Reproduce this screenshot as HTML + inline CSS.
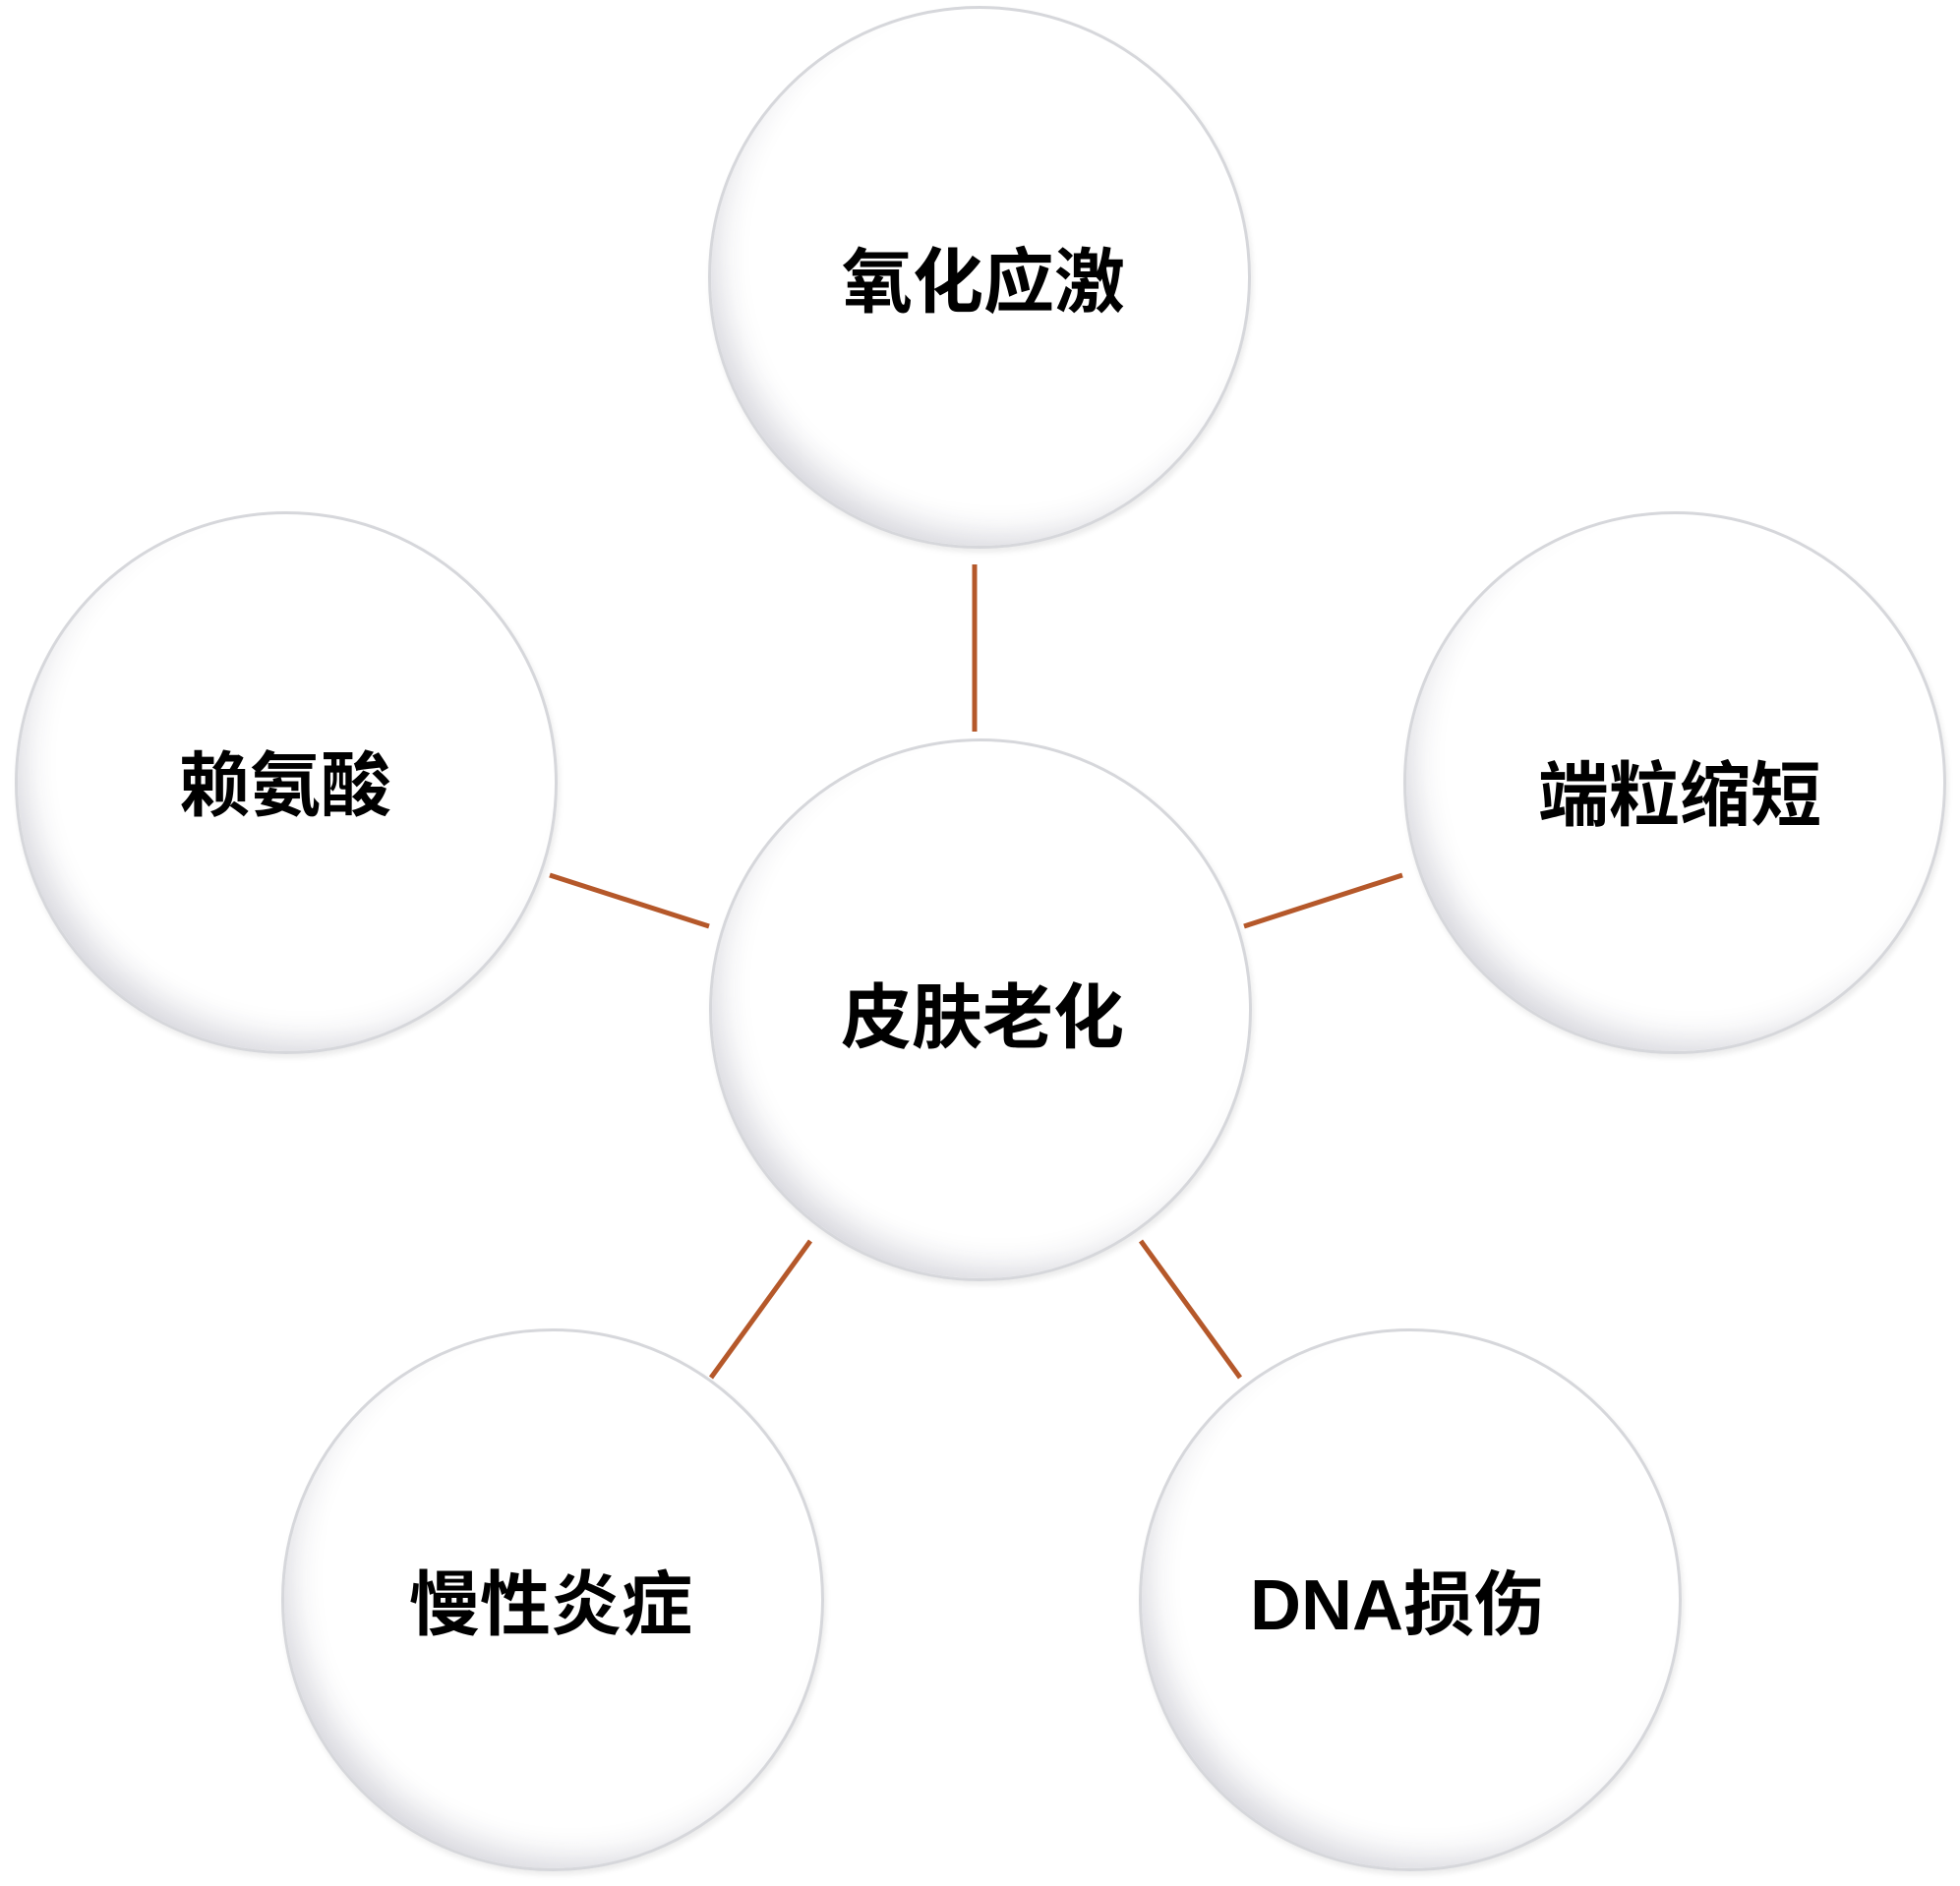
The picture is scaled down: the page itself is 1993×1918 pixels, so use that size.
<!DOCTYPE html>
<html><head><meta charset="utf-8"><style>
html,body{margin:0;padding:0;background:#fff;}
body{width:1993px;height:1918px;position:relative;overflow:hidden;font-family:"Liberation Sans","Noto Sans CJK SC",sans-serif;}
.c{position:absolute;width:552px;height:552px;border-radius:50%;box-sizing:border-box;border:3px solid #d6d7db;
background:radial-gradient(circle at 58% 40%, #ffffff 0%, #ffffff 66%, #f6f6f8 80%, #e6e6eb 94%, #ececf0 100%);
box-shadow:inset 20px -22px 34px -14px rgba(40,40,70,0.16), 2px 4px 6px rgba(0,0,0,0.08);}
.t{position:absolute;transform:translate(-50%,-50%);font-size:72px;font-weight:bold;color:#000;white-space:nowrap;line-height:1;}
svg{position:absolute;left:0;top:0;}
</style></head><body>
<svg width="1993" height="1918"><g stroke="#b5582a" stroke-width="5">
<line x1="991" y1="574" x2="991" y2="744"/>
<line x1="559" y1="890" x2="721" y2="942"/>
<line x1="1265" y1="942" x2="1426" y2="890"/>
<line x1="824" y1="1262" x2="723" y2="1401"/>
<line x1="1160" y1="1262" x2="1261" y2="1401"/>
</g></svg>
<div class="c" style="left:720px;top:6px"></div>
<div class="c" style="left:15px;top:520px"></div>
<div class="c" style="left:1427px;top:520px"></div>
<div class="c" style="left:721px;top:751px"></div>
<div class="c" style="left:286px;top:1351px"></div>
<div class="c" style="left:1158px;top:1351px"></div>
<div class="t" style="left:1000px;top:288px">氧化应激</div>
<div class="t" style="left:290px;top:800px">赖氨酸</div>
<div class="t" style="left:1708px;top:810px">端粒缩短</div>
<div class="t" style="left:999px;top:1036px">皮肤老化</div>
<div class="t" style="left:560px;top:1633px">慢性炎症</div>
<div class="t" style="left:1421px;top:1633px">DNA损伤</div>
</body></html>
